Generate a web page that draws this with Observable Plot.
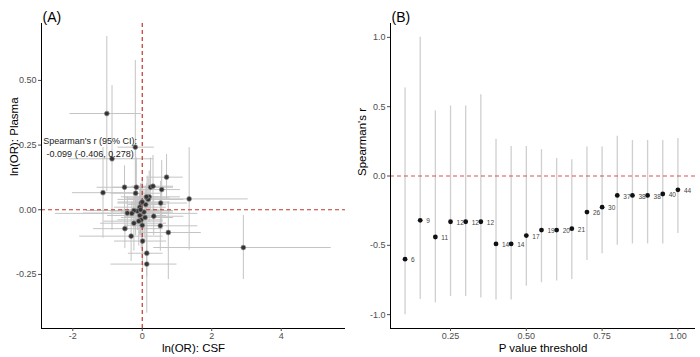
<!DOCTYPE html>
<html>
<head>
<meta charset="utf-8">
<script src="https://cdn.jsdelivr.net/npm/d3@7"></script>
<script src="https://cdn.jsdelivr.net/npm/@observablehq/plot@0.6"></script>
<style>
  html, body { margin: 0; padding: 0; background: #fff; }
  #wrap { display: flex; width: 700px; height: 357px; }
</style>
</head>
<body>
<div id="wrap"></div>
<script>
// ---------- Panel A data: ln(OR) CSF (x) vs ln(OR) Plasma (y) with 95% CIs ----------
const csfBeta  = [-1.02,-0.87,-0.20, 0.70,-1.13,-0.51,-0.17,-0.19, 0.24, 0.31, 0.56, 1.35, 0.53, 0.14, 0.20,-0.43, 0.33,-0.50, 0.52, 0.75,-0.32, 0.01, 0.13, 0.13, 2.91,-0.03,-0.07,-0.14, 0.05,-0.07,-0.03,-0.10,-0.24,-0.24, 0.17, 0.10, 0.00, 0.08,-0.05, 0.12,-0.30, 0.00];
const csfLo    = [-2.08,-2.11,-0.70, 0.14,-2.01,-1.30,-0.85,-0.90,-0.40,-0.30,-0.10,-0.40,-0.30,-0.50,-0.60,-1.70,-0.50,-1.40,-0.30,-0.10,-1.80,-0.80,-0.40,-0.90, 0.33,-0.70,-0.80,-0.90,-0.60,-1.00,-0.70,-1.10,-1.20,-1.60,-0.70,-0.40,-0.50,-0.60,-0.60,-0.20,-2.50,-0.70];
const csfHi    = [-0.02, 0.33, 0.35, 1.18,-0.20, 0.30, 0.50, 0.55, 0.90, 0.90, 1.10, 3.05, 1.30, 0.80, 1.10, 0.80, 1.20, 0.60, 1.60, 1.70, 0.60, 0.70, 0.60, 1.00, 5.44, 0.60, 0.70, 0.50, 0.90, 0.70, 0.60, 0.60, 0.70, 0.90, 1.20, 0.70, 0.50, 0.90, 0.50, 0.50, 1.60, 0.80];
const plaBeta  = [ 0.372, 0.197, 0.242, 0.126, 0.066, 0.087, 0.087, 0.064, 0.087, 0.091, 0.078, 0.042, 0.026, 0.046, 0.050,-0.013,-0.025,-0.073,-0.062,-0.088,-0.102,-0.121,-0.168,-0.210,-0.146, 0.026, 0.010,-0.005,-0.009,-0.022,-0.039,-0.044,-0.052,-0.003, 0.040, 0.020,-0.060,-0.030, 0.000, 0.050,-0.014, 0.030];
const plaLo    = [ 0.07,-0.08,-0.08, 0.04,-0.11, 0.00,-0.05,-0.10,-0.02,-0.02,-0.05,-0.157,-0.06,-0.04,-0.05,-0.08,-0.10,-0.15,-0.16,-0.27,-0.20,-0.23,-0.26,-0.40,-0.27,-0.05,-0.06,-0.08,-0.10,-0.10,-0.15,-0.14,-0.16,-0.07,-0.03,-0.04,-0.20,-0.12,-0.10, 0.00,-0.06,-0.05];
const plaHi    = [ 0.67, 0.48, 0.577,0.214,0.24, 0.17, 0.20, 0.25, 0.20, 0.21, 0.19, 0.24, 0.11, 0.13, 0.15, 0.05, 0.05, 0.00, 0.04, 0.03, 0.00, 0.00,-0.06,-0.02,-0.022,0.10, 0.08, 0.07, 0.08, 0.06, 0.07, 0.05, 0.05, 0.06, 0.12, 0.09, 0.08, 0.05, 0.10, 0.10, 0.03, 0.12];
const annotLines = ["Spearman's r (95% CI):", "-0.099 (-0.406, 0.278)"];
const annotPos = {x: -1.5, y: 0.245};

// ---------- Panel B data: Spearman's r by P value threshold ----------
const pThreshold = [0.10,0.15,0.20,0.25,0.30,0.35,0.40,0.45,0.50,0.55,0.60,0.65,0.70,0.75,0.80,0.85,0.90,0.95,1.00];
const spearmanR  = [-0.60,-0.32,-0.44,-0.33,-0.33,-0.33,-0.49,-0.49,-0.43,-0.39,-0.39,-0.38,-0.26,-0.225,-0.14,-0.14,-0.14,-0.13,-0.10];
const rLower     = [-1.00,-0.89,-0.915,-0.87,-0.87,-0.88,-0.895,-0.895,-0.795,-0.77,-0.757,-0.747,-0.61,-0.56,-0.50,-0.49,-0.49,-0.49,-0.415];
const rUpper     = [0.635,1.00,0.47,0.505,0.505,0.586,0.265,0.212,0.212,0.19,0.126,0.118,0.21,0.21,0.287,0.256,0.256,0.256,0.27];
const nSNPs      = [6,9,11,12,12,12,14,14,17,19,20,21,26,30,37,38,38,40,44];

// ---------- labels ----------
const titleA = ["(A)"], titleB = ["(B)"];
const xLabelA = ["ln(OR): CSF"], yLabelA = ["ln(OR): Plasma"];
const xLabelB = ["P value threshold"], yLabelB = ["Spearman's r"];
const xTicksA = [-2, 0, 2, 4], yTicksA = [-0.25, 0, 0.25, 0.5];
const xTicksB = [0.25, 0.5, 0.75, 1.0], yTicksB = [-1, -0.5, 0, 0.5, 1];
const refZero = [0];

const xDomA = [-2.9, 5.85], yDomA = [-0.459, 0.72];
const xDomB = [0.052, 1.058], yDomB = [-1.1, 1.1];

const FONT = "'Liberation Sans', Arial, Helvetica, sans-serif";
const fmt = (digits) => (d) => d.toFixed(digits);

const tableA = csfBeta.map((x, i) => ({x, xlo: csfLo[i], xhi: csfHi[i], y: plaBeta[i], ylo: plaLo[i], yhi: plaHi[i]}));
const tableB = pThreshold.map((p, i) => ({p, r: spearmanR[i], lo: rLower[i], hi: rUpper[i], n: nSNPs[i]}));

function axes(xTicks, yTicks, xf, yf) {
  return [
    Plot.axisX({ticks: xTicks, tickFormat: xf, tickSize: 3, tickPadding: 1, fontSize: 9, label: null, color: "#4d4d4d"}),
    Plot.axisY({ticks: yTicks, tickFormat: yf, tickSize: 3, tickPadding: 2, fontSize: 9, label: null, color: "#4d4d4d"})
  ];
}
function labels(title, xl, yl, yOff) {
  return [
    Plot.text(title, {text: d => d, frameAnchor: "top-left", dy: -11, dx: 1, textAnchor: "start", fontSize: 14, fill: "#000"}),
    Plot.text(xl, {text: d => d, frameAnchor: "bottom", dy: 23, fontSize: 11.5, fill: "#000"}),
    Plot.text(yl, {text: d => d, frameAnchor: "left", dx: -yOff, rotate: -90, fontSize: 11.5, fill: "#000"})
  ];
}

const plotA = Plot.plot({
  width: 350, height: 357,
  marginLeft: 41, marginRight: 5, marginTop: 23, marginBottom: 29,
  style: {fontFamily: FONT, fontSize: "9px", background: "#fff"},
  x: {domain: xDomA},
  y: {domain: yDomA},
  marks: [
    Plot.ruleY(tableA, {y: "y", x1: "xlo", x2: "xhi", stroke: "#c4c4c4", strokeWidth: 1}),
    Plot.ruleX(tableA, {x: "x", y1: "ylo", y2: "yhi", stroke: "#c4c4c4", strokeWidth: 1}),
    Plot.ruleX(refZero, {stroke: "#c0392b", strokeWidth: 1.2, strokeDasharray: "4,3"}),
    Plot.ruleY(refZero, {stroke: "#c0392b", strokeWidth: 1.2, strokeDasharray: "4,3"}),
    Plot.dot(tableA, {x: "x", y: "y", r: 2.4, fill: "#333", stroke: "#8a8a8a", strokeWidth: 0.7}),
    Plot.text([annotLines.join("\n")], {x: annotPos.x, y: annotPos.y, text: d => d, fontSize: 9, fill: "#222", lineHeight: 1.45}),
    Plot.ruleX([xDomA[0]], {stroke: "#000", strokeWidth: 1}),
    Plot.ruleY([yDomA[0]], {stroke: "#000", strokeWidth: 1}),
    ...axes(xTicksA, yTicksA, fmt(0), fmt(2)),
    ...labels(titleA, xLabelA, yLabelA, 27)
  ]
});

const plotB = Plot.plot({
  width: 350, height: 357,
  marginLeft: 40, marginRight: 5, marginTop: 23, marginBottom: 29,
  style: {fontFamily: FONT, fontSize: "9px", background: "#fff"},
  x: {domain: xDomB},
  y: {domain: yDomB},
  marks: [
    Plot.ruleX(tableB, {x: "p", y1: "lo", y2: "hi", stroke: "#cfcfcf", strokeWidth: 1.3}),
    Plot.ruleY(refZero, {stroke: "#d9534f", strokeWidth: 1.2, strokeDasharray: "4,3"}),
    Plot.dot(tableB, {x: "p", y: "r", r: 2.4, fill: "#111"}),
    Plot.text(tableB, {x: "p", y: "r", text: d => String(d.n), dx: 6, dy: 1, textAnchor: "start", fontSize: 6.5, fill: "#444"}),
    Plot.ruleX([xDomB[0]], {stroke: "#000", strokeWidth: 1}),
    Plot.ruleY([yDomB[0]], {stroke: "#000", strokeWidth: 1}),
    ...axes(xTicksB, yTicksB, fmt(2), fmt(1)),
    ...labels(titleB, xLabelB, yLabelB, 28)
  ]
});

document.getElementById("wrap").append(plotA, plotB);
</script>
</body>
</html>
